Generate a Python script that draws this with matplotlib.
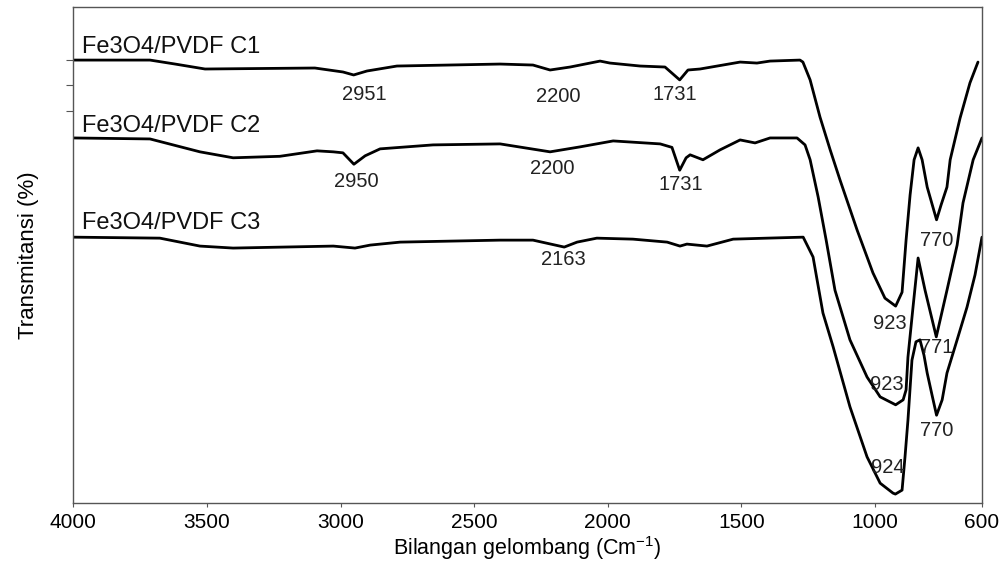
import numpy as np
import matplotlib
matplotlib.use("Agg")
import matplotlib.pyplot as plt

plt.rcParams['font.family'] = ['Liberation Sans', 'DejaVu Sans']
plt.rcParams['mathtext.default'] = 'regular'

# FTIR spektrum (bilangan gelombang, transmitansi relatif)
wn_c1 = [4000, 3713, 3619, 3507, 3096, 2991, 2951, 2901, 2789, 2403, 2280, 2216, 2141, 2029, 1992,
         1879, 1786, 1731, 1700, 1655, 1505, 1442, 1393, 1281, 1270, 1243, 1206, 1168, 1131, 1067,
         1008, 963, 923, 899, 884, 869, 854, 839, 824, 805, 770, 753, 731, 719, 682, 645, 615]
t_c1 = [89.3, 89.3, 88.5, 87.5, 87.7, 86.9, 86.3, 87.1, 88.1, 88.5, 88.3, 87.3, 87.9, 89.1, 88.7,
        88.1, 87.9, 85.3, 87.3, 87.5, 88.9, 88.7, 89.1, 89.3, 88.9, 85.3, 77.8, 71.2, 65.1, 55.0,
        46.4, 41.3, 39.7, 42.5, 53.0, 62.1, 69.2, 71.6, 69.2, 63.7, 57.1, 60.1, 63.7, 69.2, 77.6, 84.7, 88.9]

wn_c2 = [4000, 3713, 3526, 3402, 3227, 3088, 3027, 2991, 2950, 2908, 2852, 2654, 2403, 2216, 2104,
         1980, 1804, 1760, 1731, 1707, 1692, 1644, 1580, 1505, 1449, 1393, 1292, 1262, 1243, 1213,
         1183, 1150, 1094, 1030, 981, 923, 895, 884, 877, 858, 839, 813, 771, 731, 693, 671, 633, 600]
t_c2 = [73.6, 73.4, 70.8, 69.6, 69.9, 71.0, 70.8, 70.6, 68.3, 70.0, 71.4, 72.2, 72.4, 70.8, 71.8,
        73.0, 72.4, 71.7, 67.1, 69.6, 70.2, 69.2, 71.2, 73.2, 72.6, 73.6, 73.6, 72.2, 69.2, 61.7,
        53.0, 42.9, 32.9, 25.4, 21.4, 19.8, 20.8, 22.8, 29.4, 39.5, 49.4, 42.9, 33.5, 42.9, 52.0, 60.5, 69.2, 73.6]

wn_c3 = [4000, 3676, 3526, 3402, 3027, 2946, 2889, 2777, 2403, 2280, 2163, 2115, 2041, 1906, 1778,
         1730, 1704, 1629, 1531, 1404, 1269, 1232, 1217, 1195, 1157, 1094, 1030, 981, 933, 924,
         899, 888, 877, 862, 847, 832, 817, 805, 787, 770, 749, 731, 693, 656, 626, 600]
t_c3 = [53.6, 53.4, 51.8, 51.4, 51.8, 51.4, 52.0, 52.6, 53.0, 53.0, 51.6, 52.6, 53.4, 53.2, 52.6,
        51.8, 52.2, 51.8, 53.2, 53.4, 53.6, 49.6, 45.0, 38.3, 31.5, 19.4, 9.3, 4.0, 2.0, 1.8,
        2.6, 9.3, 16.7, 28.8, 32.5, 32.9, 29.8, 26.2, 21.8, 17.7, 20.8, 26.2, 32.9, 39.5, 46.0, 53.6]

# nama sampel dan label puncak
names = ["Fe3O4/PVDF C1", "Fe3O4/PVDF C2", "Fe3O4/PVDF C3"]
name_pos = [(3967, 90.7), (3967, 74.8), (3967, 55.2)]
peaks = ["2951", "2950", "2200", "1731", "2200", "1731", "2163",
         "770", "923", "771", "923", "770", "924"]
peak_pos = [(2912, 82.3), (2942, 64.9), (2186, 81.9), (1748, 82.3), (2209, 67.5), (1726, 64.3),
            (2168, 49.0), (768, 53.0), (944, 36.1), (768, 31.3), (955, 23.8), (768, 14.7), (952, 7.1)]
yticks = [89.3, 84.3, 79.0]

fig = plt.figure(figsize=(10.01, 5.65), dpi=100)
ax = fig.add_axes([0.0732, 0.1097, 0.9078, 0.8779])

for wn, t in [(wn_c1, t_c1), (wn_c2, t_c2), (wn_c3, t_c3)]:
    ax.plot(wn, t, color="black", linewidth=2.0, solid_joinstyle="round", solid_capstyle="round")

for name, (x, y) in zip(names, name_pos):
    ax.text(x, y, name, fontsize=17, ha="left", va="baseline", color="#111111")

for p, (x, y) in zip(peaks, peak_pos):
    ax.text(x, y, p, fontsize=14.5, ha="center", va="center", color="#222222")

ax.set_xlim(4000, 600)
ax.set_ylim(0, 100)
ax.set_xticks([4000, 3500, 3000, 2500, 2000, 1500, 1000, 600])
ax.set_yticks(yticks)
ax.set_yticklabels([])
ax.tick_params(axis="x", direction="out", length=3, labelsize=15, colors="#555555", labelcolor="black", pad=4)
ax.tick_params(axis="y", direction="out", length=5, colors="#555555")
for s in ax.spines.values():
    s.set_color("#555555")
    s.set_linewidth(1.0)

ax.set_xlabel("Bilangan gelombang (Cm$^{-1}$)", fontsize=15.5, labelpad=2)
ax.set_ylabel("Transmitansi (%)", fontsize=16, labelpad=16)

fig.savefig("out.png", dpi=100)
